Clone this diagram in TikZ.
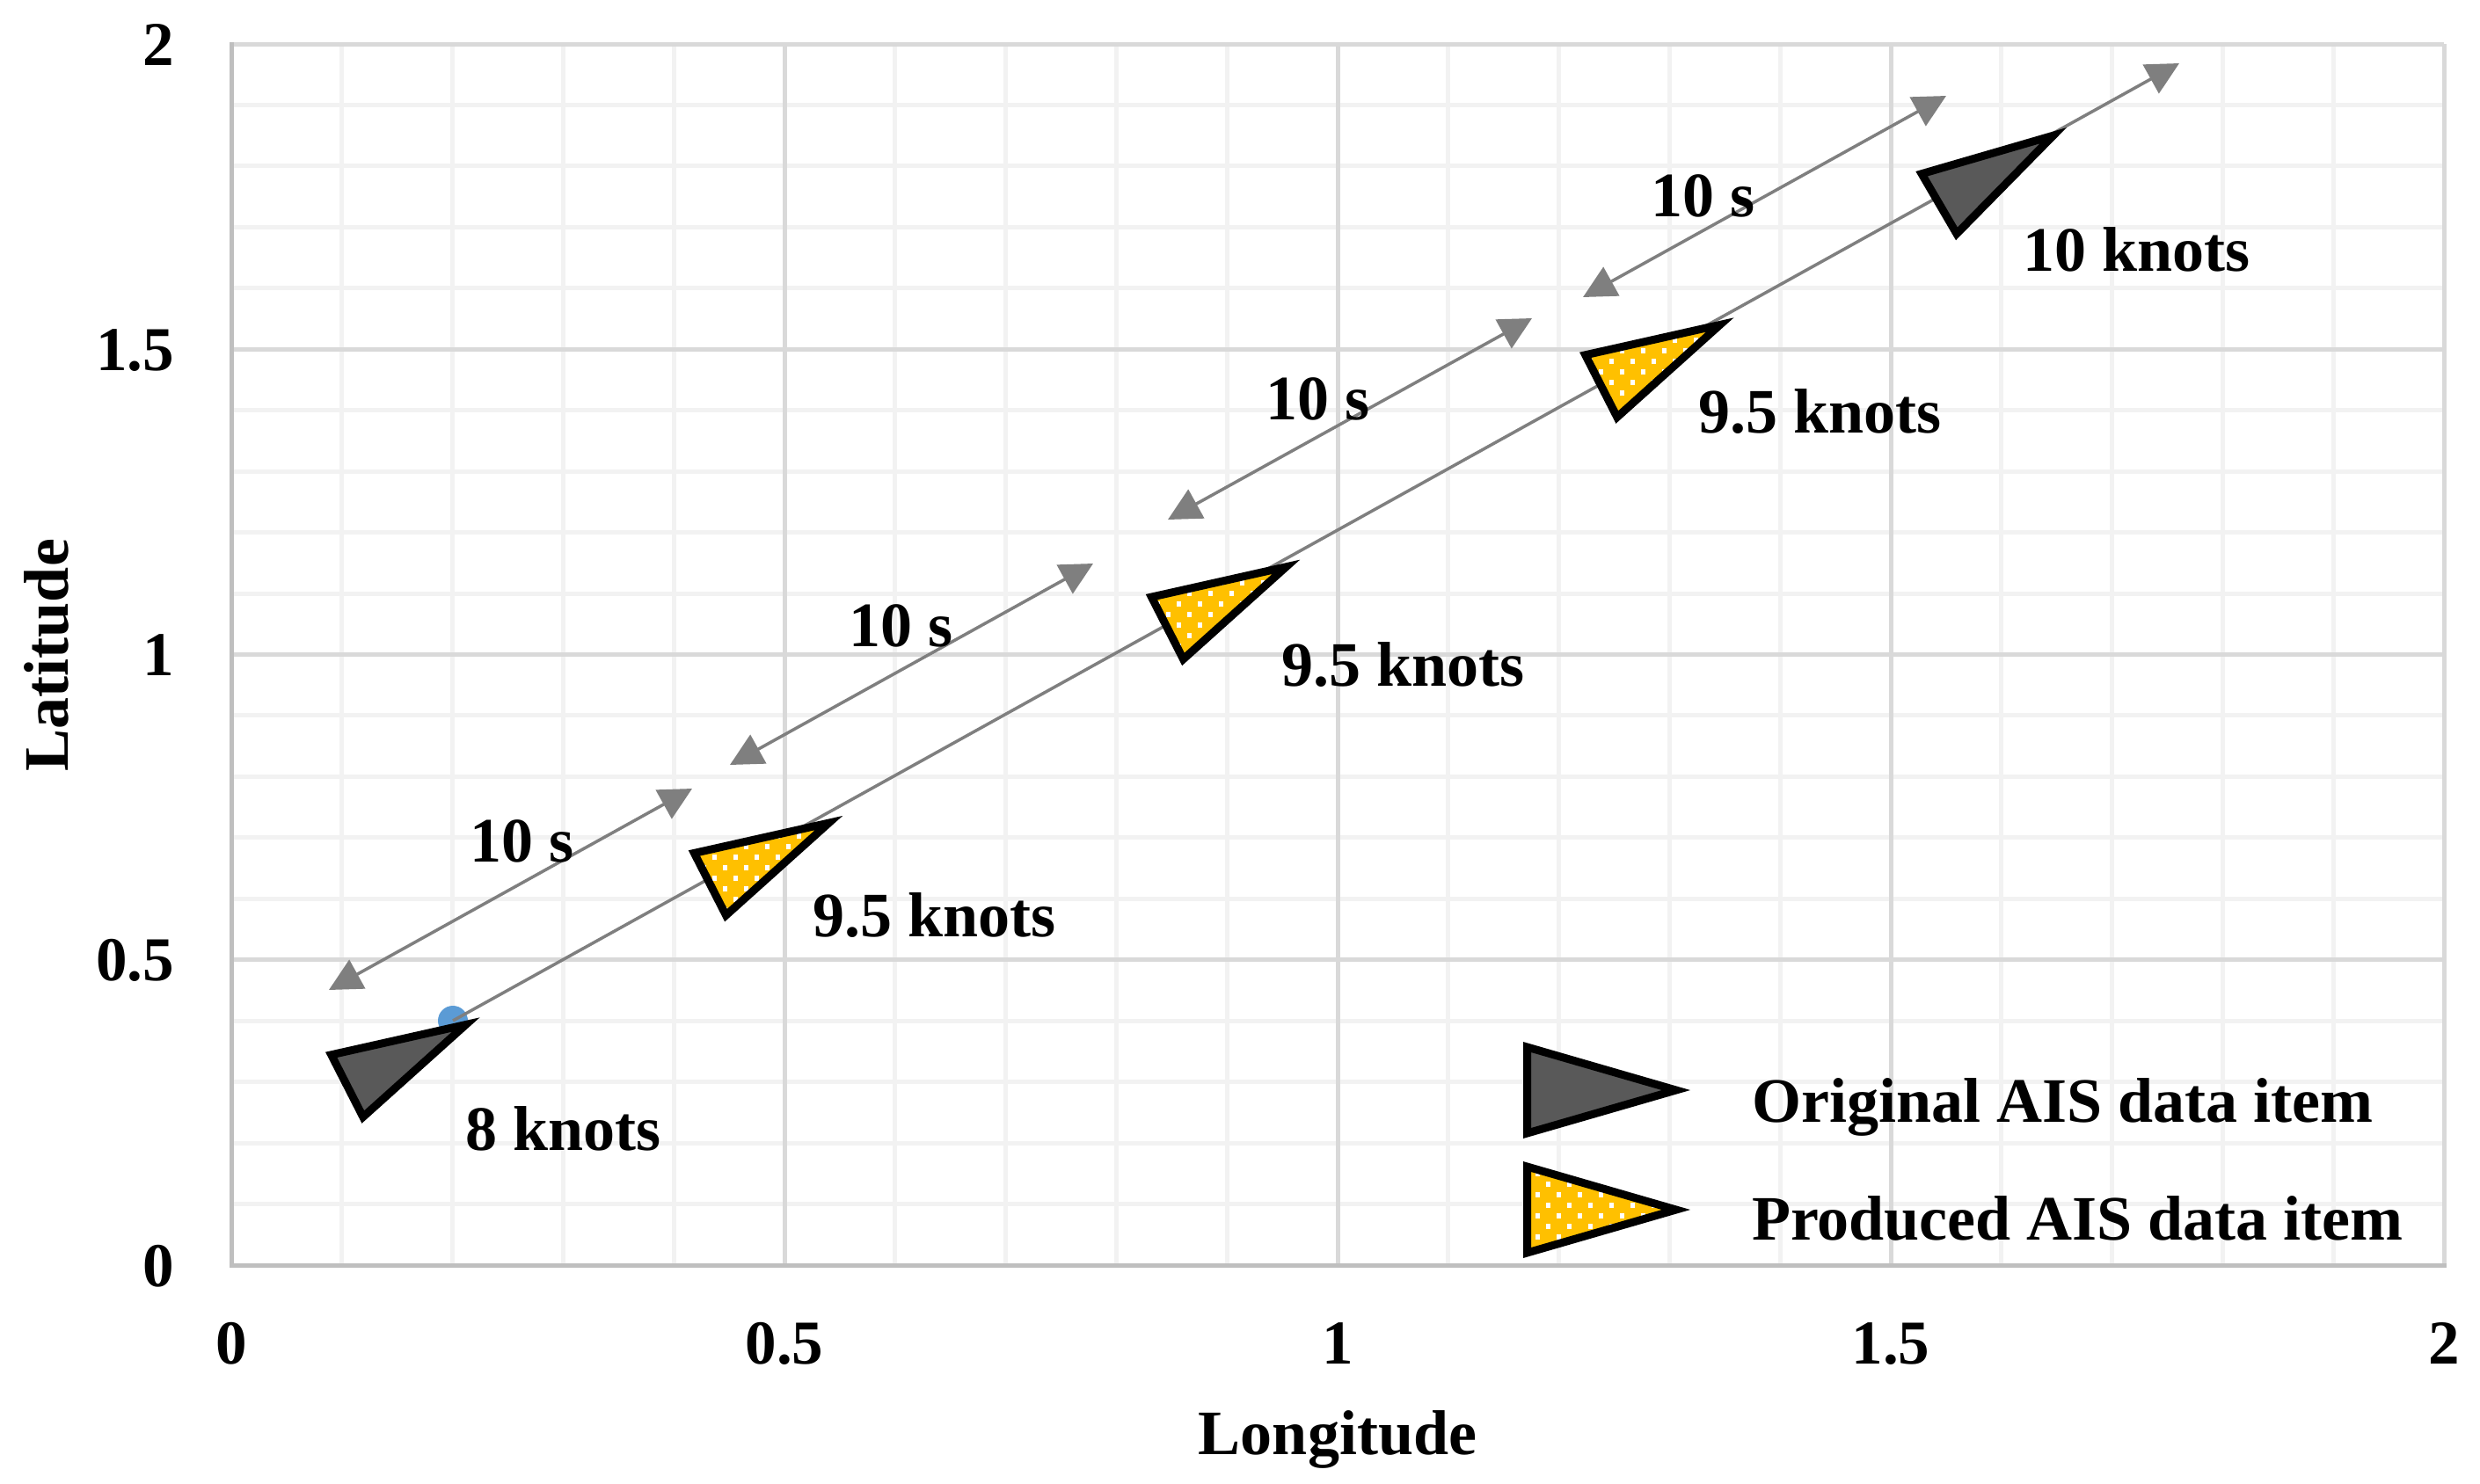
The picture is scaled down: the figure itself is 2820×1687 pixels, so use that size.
\documentclass[tikz,border=0pt]{standalone}
\usepackage{fontspec}
\setmainfont{Liberation Serif}
\usetikzlibrary{arrows.meta}
\definecolor{gridminor}{HTML}{F2F2F2}
\definecolor{gridmajor}{HTML}{D9D9D9}
\definecolor{axisgray}{HTML}{BFBFBF}
\definecolor{linegray}{HTML}{7F7F7F}
\definecolor{darkfill}{HTML}{595959}
\definecolor{goldfill}{HTML}{FFC000}
\definecolor{dotblue}{HTML}{5B9BD5}
\newcommand{\mydotgrid}[4]{%
  \foreach \j in {#3,...,#4}{%
    \foreach \i in {#1,...,#2}{%
      \pgfmathtruncatemacro{\myparity}{abs(mod(\i+\j,2))}%
      \ifnum\myparity=0
        \fill[white] ({812+12*\i-2.5},{975+12*\j-2.75}) rectangle ++(5,5.5);
      \fi
    }%
  }%
}
\begin{document}
\begin{tikzpicture}[x=1pt,y=-1pt,
  minorgrid/.style={draw=gridminor,line width=5pt},
  majorgrid/.style={draw=gridmajor,line width=5pt},
  axisline/.style={draw=axisgray,line width=5pt},
  tick/.style={font=\fontsize{71}{85}\selectfont\bfseries,inner sep=0pt},
  lbl/.style={font=\fontsize{72}{86}\selectfont\bfseries,inner sep=0pt,anchor=base west},
  dimarrow/.style={draw=linegray,line width=3.5pt,{Triangle[length=37pt,width=37pt]}-{Triangle[length=37pt,width=37pt]}},
  trackline/.style={draw=linegray,line width=3.5pt,-{Triangle[length=37pt,width=37pt]}},
  markeredge/.style={draw=black,line width=9pt,line join=miter}]
\useasboundingbox (0,0) rectangle (2820,1687);
\fill[white] (0,0) rectangle (2820,1687);
% minor grid
\foreach \k in {1,2,3,4,6,7,8,9,11,12,13,14,16,17,18,19}{
  \draw[minorgrid] ({263+125.8*\k},50) -- ({263+125.8*\k},1439);
  \draw[minorgrid] (263,{1439-69.45*\k}) -- (2779,{1439-69.45*\k});
}
% major grid
\foreach \k in {1,2,3,4}{
  \draw[majorgrid] ({263+629*\k},50) -- ({263+629*\k},1439);
  \draw[majorgrid] (263,{1439-347.25*\k}) -- (2779,{1439-347.25*\k});
}
% axes
\draw[axisline] (263,47.5) -- (263,1439) -- (2781.5,1439);
% tick labels
\foreach \v/\lab in {0/0,1/0.5,2/1,3/1.5,4/2}{
  \node[tick,anchor=base] (xt\v) at ({263+629*\v},1551) {\lab};
  \node[tick,anchor=base east] (yt\v) at (198,{1439-347.25*\v+24}) {\lab};
}
\node[lbl,anchor=base] (xtitle) at (1521,1654) {Longitude};
\node[lbl,anchor=base,rotate=90] (ytitle) at (77,745) {Latitude};
% start point
\node[circle,fill=dotblue,minimum size=34pt,inner sep=0pt] (dot) at (515,1161) {};
% track line
\coordinate (trackend) at (2478,72);
\draw[trackline] (dot.center) -- (trackend);
% 10 s arrows
\coordinate (a1s) at (374,1126);  \coordinate (a1e) at (787,897);
\coordinate (a2s) at (830,870);   \coordinate (a2e) at (1243,641);
\coordinate (a3s) at (1328,591);  \coordinate (a3e) at (1742,362);
\coordinate (a4s) at (1800,338);  \coordinate (a4e) at (2213,109);
\draw[dimarrow] (a1s) -- (a1e);
\draw[dimarrow] (a2s) -- (a2e);
\draw[dimarrow] (a3s) -- (a3e);
\draw[dimarrow] (a4s) -- (a4e);
% original markers
\fill[darkfill] (376.7,1199.8) -- (412.8,1270.5) -- (529.7,1165.5) -- cycle;
\draw[markeredge] (376.7,1199.8) -- (412.8,1270.5) -- (529.7,1165.5) -- cycle;
\fill[darkfill] (2185.1,197.7) -- (2224.9,265.9) -- (2334.7,154.2) -- cycle;
\draw[markeredge] (2185.1,197.7) -- (2224.9,265.9) -- (2334.7,154.2) -- cycle;
% produced markers
\begin{scope}
  \clip (789.4,970.4) -- (825.5,1041.1) -- (942.4,936.1) -- cycle;
  \fill[goldfill] (700,850) rectangle (1000,1100);
  \mydotgrid{-2}{11}{-4}{6}
\end{scope}
\draw[markeredge] (789.4,970.4) -- (825.5,1041.1) -- (942.4,936.1) -- cycle;
\begin{scope}
  \clip (1309.4,679.1) -- (1345.5,749.8) -- (1462.4,644.8) -- cycle;
  \fill[goldfill] (1250,600) rectangle (1500,800);
  \mydotgrid{41}{55}{-28}{-18}
\end{scope}
\draw[markeredge] (1309.4,679.1) -- (1345.5,749.8) -- (1462.4,644.8) -- cycle;
\begin{scope}
  \clip (1802.7,403.8) -- (1838.8,474.5) -- (1955.7,369.5) -- cycle;
  \fill[goldfill] (1750,330) rectangle (2000,520);
  \mydotgrid{82}{96}{-51}{-41}
\end{scope}
\draw[markeredge] (1802.7,403.8) -- (1838.8,474.5) -- (1955.7,369.5) -- cycle;
% labels
\node[lbl] (k8) at (529,1308) {8 knots};
\node[lbl] (k95a) at (924,1065) {9.5 knots};
\node[lbl] (k95b) at (1457,780) {9.5 knots};
\node[lbl] (k95c) at (1931,492) {9.5 knots};
\node[lbl] (k10) at (2300,308) {10 knots};
\node[lbl] (s1) at (534,980) {10 s};
\node[lbl] (s2) at (965,735) {10 s};
\node[lbl] (s3) at (1439,477) {10 s};
\node[lbl] (s4) at (1877,246) {10 s};
% legend
\fill[darkfill] (1736.5,1191) -- (1736.5,1289) -- (1905.8,1240) -- cycle;
\draw[markeredge] (1736.5,1191) -- (1736.5,1289) -- (1905.8,1240) -- cycle;
\begin{scope}
  \clip (1736.5,1327) -- (1736.5,1425) -- (1905.8,1376) -- cycle;
  \fill[goldfill] (1700,1300) rectangle (1950,1450);
  \mydotgrid{77}{92}{29}{38}
\end{scope}
\draw[markeredge] (1736.5,1327) -- (1736.5,1425) -- (1905.8,1376) -- cycle;
\node[lbl] (leg1) at (1992,1276) {Original AIS data item};
\node[lbl] (leg2) at (1992,1410) {Produced AIS data item};
\end{tikzpicture}
\end{document}
